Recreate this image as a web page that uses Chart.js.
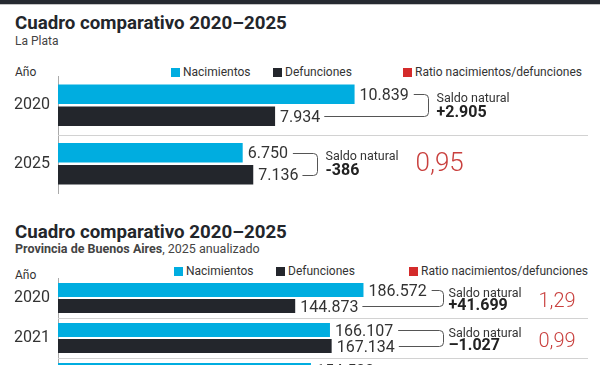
<!DOCTYPE html>
<html><head><meta charset="utf-8">
<script src="https://cdn.jsdelivr.net/npm/chart.js@4"></script>
<style>
html,body{margin:0;padding:0;background:#fff;width:600px;height:365px;overflow:hidden;font-family:Roboto,"Noto Sans",sans-serif;color:#2b2b2b;position:relative}
.band{position:absolute;left:0;top:0;width:600px;height:4px;background:#262a31;border-bottom:1px solid #c4c4c4}
.t{position:absolute;white-space:nowrap;line-height:normal}
.title{left:15px;font-weight:700;font-size:18.7px;color:#23262b}
.sub{left:15px;font-size:12px;color:#444}
.leg{font-size:12px;color:#333}
.sq{display:inline-block;width:9px;height:9px;margin-right:3px;vertical-align:-1px}
canvas{position:absolute;left:0}
</style></head>
<body>
<div class="band"></div>
<div class="t title" style="top:12px">Cuadro comparativo 2020–2025</div>
<div class="t sub" style="top:34px">La Plata</div>
<div class="t leg" style="left:15px;top:65px">Año</div>
<div class="t leg" style="left:171px;top:65px"><span class="sq" style="background:#00ade0"></span>Nacimientos</div>
<div class="t leg" style="left:273px;top:65px"><span class="sq" style="background:#23262c"></span>Defunciones</div>
<div class="t leg" style="left:403px;top:65px"><span class="sq" style="background:#d42b2b"></span>Ratio nacimientos/defunciones</div>
<canvas id="c1" width="600" height="130" style="top:70px;width:600px;height:130px"></canvas>

<div class="t title" style="top:221px">Cuadro comparativo 2020–2025</div>
<div class="t sub" style="top:241px;font-size:12.5px"><b>Provincia de Buenos Aires</b>, 2025 anualizado</div>
<div class="t leg" style="left:15px;top:268px">Año</div>
<div class="t leg" style="left:174px;top:264px"><span class="sq" style="background:#00ade0"></span>Nacimientos</div>
<div class="t leg" style="left:276px;top:264px"><span class="sq" style="background:#23262c"></span>Defunciones</div>
<div class="t leg" style="left:409px;top:264px"><span class="sq" style="background:#d42b2b"></span>Ratio nacimientos/defunciones</div>
<canvas id="c2" width="600" height="132" style="top:272px;width:600px;height:132px"></canvas>

<script>
// ---- La Plata ----
const lpYears = ['2020', '2025'];
const lpBirths = [10839, 6750];
const lpDeaths = [7934, 7136];
const lpRatio = [null, 0.95];
const lpMax = 19370;

// ---- Provincia de Buenos Aires ----
const pbaYears = ['2020', '2021', '2022'];
const pbaBirths = [186572, 166107, 154500];
const pbaDeaths = [144873, 167134, null];
const pbaRatio = [1.29, 0.99, null];
const pbaMax = 323700;

const CYAN = '#00ade0', DARK = '#23262c', RED = '#c9403e';
const FONT = 'Roboto, "Noto Sans", sans-serif';

function fmt(v) { return String(Math.abs(v)).replace(/\B(?=(\d{3})+(?!\d))/g, '.'); }

const annot = {
  id: 'annot',
  afterDatasetsDraw(chart, args, o) {
    const ctx = chart.ctx, ys = chart.scales.y, area = chart.chartArea;
    const n = chart.data.labels.length;
    ctx.save();
    ctx.strokeStyle = '#d2d2d2'; ctx.lineWidth = 1;
    for (let i = 0; i < n - 1; i++) {
      const yy = Math.round((ys.getPixelForValue(i) + ys.getPixelForValue(i + 1)) / 2) + 0.5;
      ctx.beginPath(); ctx.moveTo(area.left, yy); ctx.lineTo(area.right, yy); ctx.stroke();
    }
    const births = chart.data.datasets[0].data, deaths = chart.data.datasets[1].data;
    const m0 = chart.getDatasetMeta(0), m1 = chart.getDatasetMeta(1);
    const capH = 0.711;
    ctx.font = '400 ' + o.valSize + 'px ' + FONT;
    const rows = [];
    for (let i = 0; i < n; i++) {
      const r = {};
      if (births[i] != null) {
        const b = m0.data[i];
        r.bx = b.x + 5; r.by = b.y; r.bt = fmt(births[i]);
        r.be = r.bx + ctx.measureText(r.bt).width;
      }
      if (deaths[i] != null) {
        const d = m1.data[i];
        r.dx = d.x + 5; r.dy = d.y; r.dt = fmt(deaths[i]);
        r.de = r.dx + ctx.measureText(r.dt).width;
      }
      rows.push(r);
    }
    let colX = 0;
    rows.forEach(r => { if (r.be != null && r.de != null) colX = Math.max(colX, Math.max(r.be, r.de) + o.bracketGap); });
    ctx.textAlign = 'left'; ctx.textBaseline = 'alphabetic';
    rows.forEach((r, i) => {
      ctx.font = '400 ' + o.valSize + 'px ' + FONT;
      ctx.fillStyle = '#333';
      if (r.bt) ctx.fillText(r.bt, r.bx, r.by + o.valSize * capH / 2);
      if (r.dt) ctx.fillText(r.dt, r.dx, r.dy + o.valSize * capH / 2);
      if (r.bt == null || r.dt == null) return;
      const bx = o.column ? colX : Math.max(r.be, r.de) + o.bracketGap;
      const t = Math.round(r.by) + 0.5, bt = Math.round(r.dy) + 0.5, rad = 4, X = Math.round(bx) + 0.5;
      ctx.strokeStyle = '#555'; ctx.lineWidth = 1;
      ctx.beginPath();
      ctx.moveTo(r.be + 5, t);
      ctx.lineTo(X - rad, t);
      ctx.arcTo(X, t, X, t + rad, rad);
      ctx.lineTo(X, bt - rad);
      ctx.arcTo(X, bt, X - rad, bt, rad);
      ctx.lineTo(r.de + 4, bt);
      ctx.stroke();
      const cy = (r.by + r.dy) / 2;
      const sx = X + o.saldoGap;
      const saldo = births[i] - deaths[i];
      ctx.fillStyle = '#333';
      ctx.font = '400 12.5px ' + FONT;
      ctx.fillText('Saldo natural', sx, cy - o.saldoUp + 12.5 * capH / 2);
      ctx.fillStyle = '#222';
      ctx.font = '700 16px ' + FONT;
      ctx.fillText((saldo >= 0 ? '+' : o.neg) + fmt(saldo), sx, cy + o.saldoDown + 16 * capH / 2);
      const ratio = o.ratio[i];
      if (ratio != null) {
        ctx.fillStyle = RED;
        ctx.font = '300 ' + o.ratioSize + 'px ' + FONT;
        ctx.fillText(ratio.toFixed(2).replace('.', ','), sx + 90, cy + o.ratioOff + o.ratioSize * capH / 2);
      }
    });
    ctx.restore();
  }
};

function make(id, labels, births, deaths, max, catPct, barPct, pad, annotOpts) {
  return new Chart(document.getElementById(id), {
    type: 'bar',
    data: {
      labels: labels,
      datasets: [
        { label: 'Nacimientos', data: births, backgroundColor: CYAN, borderWidth: 0, categoryPercentage: catPct, barPercentage: barPct },
        { label: 'Defunciones', data: deaths, backgroundColor: DARK, borderWidth: 0, categoryPercentage: catPct, barPercentage: barPct }
      ]
    },
    options: {
      indexAxis: 'y',
      responsive: false,
      animation: false,
      devicePixelRatio: 1,
      layout: { padding: pad },
      plugins: { legend: { display: false }, tooltip: { enabled: false }, annot: annotOpts },
      scales: {
        x: { display: false, min: 0, max: max },
        y: {
          grid: { display: false, drawTicks: false },
          border: { display: true, color: '#aaaaaa', width: 1 },
          ticks: { color: '#333', font: { family: FONT, size: 16 }, padding: 8 },
          afterFit(s) { s.width = 58; s.paddingTop = 0; s.paddingBottom = 0; }
        }
      }
    },
    plugins: [annot]
  });
}

make('c1', lpYears, lpBirths, lpDeaths, lpMax, 0.752, 0.886,
  { left: 0, right: 12, top: 6, bottom: 7 },
  { valSize: 16, bracketGap: 19, saldoGap: 8, column: false, neg: '-', ratio: lpRatio, ratioSize: 26, ratioOff: -2, saldoUp: 8, saldoDown: 6 });

make('c2', pbaYears, pbaBirths, pbaDeaths, pbaMax, 0.8, 0.875,
  { left: 0, right: 12, top: 6, bottom: 6 },
  { valSize: 16, bracketGap: 16, saldoGap: 5, column: true, neg: '–', ratio: pbaRatio, ratioSize: 20, ratioOff: 2, saldoUp: 5.5, saldoDown: 6.5 });
</script>
</body></html>
